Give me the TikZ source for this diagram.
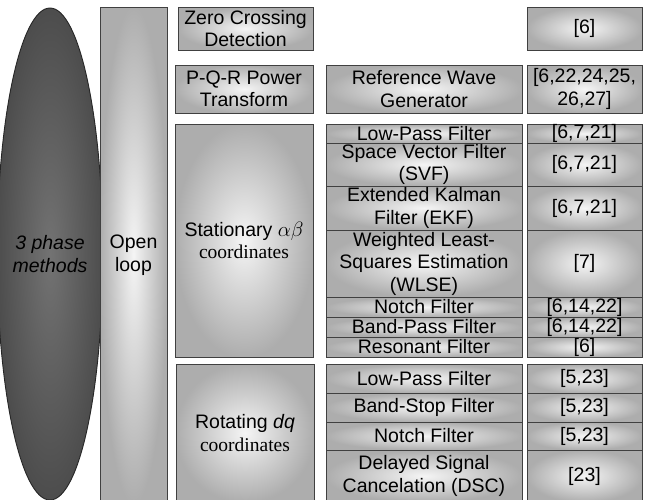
\documentclass[tikz,border=0pt]{standalone}
\usepackage{fontspec}
\setmainfont{Liberation Sans}
\newfontfamily\coordfont{Liberation Serif}
\usepackage{tikz}
\usetikzlibrary{shapes.geometric}

\begin{document}
\begin{tikzpicture}[x=1pt,y=-1pt,
  cell/.style={draw=black!75, line width=0.9pt, inner color=black!4, outer color=black!32,
    inner sep=0pt, align=center, font=\fontsize{19.5}{22.5}\selectfont},
  body/.style={ellipse, draw=black!85, line width=0.9pt, inner color=black!55, outer color=black!70,
    inner sep=0pt, align=center, font=\fontsize{19.5}{22.5}\selectfont\itshape}]
\useasboundingbox (0,0) rectangle (645,499);
% left columns
\node [body, minimum width=85, minimum height=492] (tpm) at (50,254) {3 phase\\methods};
\node [cell, minimum width=67, minimum height=496] (ol) at (133.5,255) {Open\\loop};
% methods
\node [cell, minimum width=135, minimum height=43] (zcd) at (245.5,28.5) {Zero Crossing\\Detection};
\node [cell, minimum width=138, minimum height=48] (pqr) at (244,89) {P-Q-R Power\\Transform};
\node [cell, minimum width=138, minimum height=233] (stat) at (244,240.5) {Stationary $\alpha\beta$\\{\coordfont coordinates}};
\node [cell, minimum width=138, minimum height=138] (rot) at (245,433) {Rotating \textit{dq}\\{\coordfont coordinates}};
% filters
\node [cell, minimum width=196, minimum height=48] (rwg) at (424,89) {Reference Wave\\Generator};
\node [cell, minimum width=196, minimum height=19] (lpfa) at (424,133.5) {Low-Pass Filter};
\node [cell, minimum width=196, minimum height=43] (svf) at (424,164.5) {Space Vector Filter\\(SVF)};
\node [cell, minimum width=196, minimum height=44] (ekf) at (424,208) {Extended Kalman\\Filter (EKF)};
\node [cell, minimum width=196, minimum height=67] (wlse) at (424,263.5) {Weighted Least-\\Squares Estimation\\(WLSE)};
\node [cell, minimum width=196, minimum height=20] (ntca) at (424,307) {Notch Filter};
\node [cell, minimum width=196, minimum height=20] (bpf) at (424,327) {Band-Pass Filter};
\node [cell, minimum width=196, minimum height=20] (res) at (424,347) {Resonant Filter};
\node [cell, minimum width=196, minimum height=29] (lpfb) at (424,378.5) {Low-Pass Filter};
\node [cell, minimum width=196, minimum height=29] (bsf) at (424,407.5) {Band-Stop Filter};
\node [cell, minimum width=196, minimum height=28] (ntcb) at (424,436) {Notch Filter};
\node [cell, minimum width=196, minimum height=52] (dsc) at (424,476) {Delayed Signal\\Cancelation (DSC)};
% references
\node [cell, minimum width=115, minimum height=43] (rzcd) at (584.5,28.5) {[6]};
\node [cell, minimum width=115, minimum height=48] (rrwg) at (584.5,89) {[6,22,24,25,\\26,27]};
\node [cell, minimum width=115, minimum height=19] (rlpfa) at (584.5,133.5) {[6,7,21]};
\node [cell, minimum width=115, minimum height=43] (rsvf) at (584.5,164.5) {[6,7,21]};
\node [cell, minimum width=115, minimum height=44] (rekf) at (584.5,208) {[6,7,21]};
\node [cell, minimum width=115, minimum height=67] (rwlse) at (584.5,263.5) {[7]};
\node [cell, minimum width=115, minimum height=20] (rntca) at (584.5,307) {[6,14,22]};
\node [cell, minimum width=115, minimum height=20] (rbpf) at (584.5,327) {[6,14,22]};
\node [cell, minimum width=115, minimum height=20] (rres) at (584.5,347) {[6]};
\node [cell, minimum width=115, minimum height=29] (rlpfb) at (584.5,378.5) {[5,23]};
\node [cell, minimum width=115, minimum height=29] (rbsf) at (584.5,407.5) {[5,23]};
\node [cell, minimum width=115, minimum height=28] (rntcb) at (584.5,436) {[5,23]};
\node [cell, minimum width=115, minimum height=52] (rdsc) at (584.5,476) {[23]};
\end{tikzpicture}
\end{document}
